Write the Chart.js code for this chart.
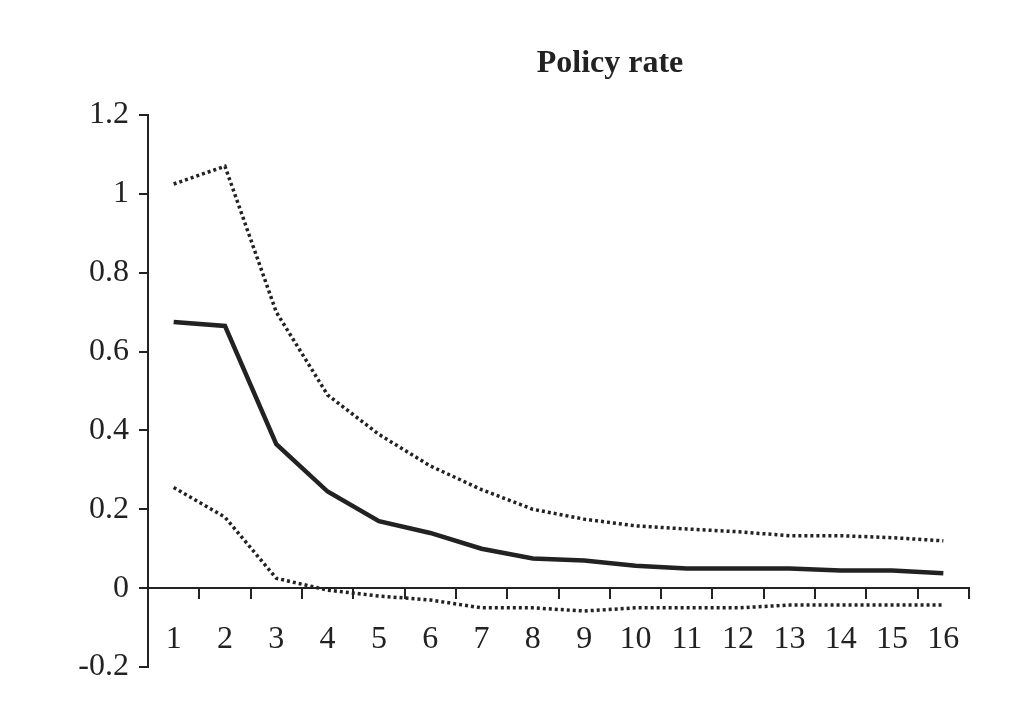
<!DOCTYPE html>
<html>
<head>
<meta charset="utf-8">
<script src="https://cdn.jsdelivr.net/npm/chart.js@4"></script>
<style>
  html, body { margin: 0; padding: 0; background: #fff; }
  #wrap { width: 1010px; height: 726px; }
</style>
</head>
<body>
<div id="wrap"><canvas id="chart" width="1010" height="726"></canvas></div>
<script>
// Horizon labels
const periods = ["1","2","3","4","5","6","7","8","9","10","11","12","13","14","15","16"];

// Impulse response and bands
const response = [0.675, 0.665, 0.365, 0.245, 0.17, 0.14, 0.10, 0.075, 0.07, 0.057, 0.05, 0.05, 0.05, 0.045, 0.045, 0.038];
const upperBand = [1.025, 1.07, 0.70, 0.49, 0.39, 0.31, 0.25, 0.20, 0.175, 0.158, 0.15, 0.143, 0.133, 0.133, 0.128, 0.12];
const lowerBand = [0.255, 0.18, 0.025, -0.005, -0.02, -0.03, -0.05, -0.05, -0.058, -0.05, -0.05, -0.05, -0.043, -0.043, -0.043, -0.043];

const titleText = "Policy rate";
const ink = "#222";
const serif = "'Liberation Serif', 'DejaVu Serif', serif";

// Title drawn at a fixed spot above the plot
const titlePlugin = {
  id: "fixedTitle",
  afterDraw(chart) {
    const ctx = chart.ctx;
    ctx.save();
    ctx.font = "bold 32px " + serif;
    ctx.fillStyle = ink;
    ctx.textAlign = "center";
    ctx.textBaseline = "middle";
    ctx.fillText(titleText, 610, 64);
    ctx.restore();
  }
};

new Chart(document.getElementById("chart"), {
  type: "line",
  data: {
    labels: periods,
    datasets: [
      { data: upperBand, borderColor: ink, borderWidth: 3.5, borderDash: [3, 3], pointRadius: 0, tension: 0 },
      { data: response, borderColor: ink, borderWidth: 4.5, pointRadius: 0, tension: 0 },
      { data: lowerBand, borderColor: ink, borderWidth: 3.5, borderDash: [3, 3], pointRadius: 0, tension: 0 },
    ],
  },
  options: {
    responsive: false,
    animation: false,
    layout: { padding: { left: 0, right: 41, top: 115, bottom: 59 } },
    plugins: { legend: { display: false }, title: { display: false }, tooltip: { enabled: false } },
    scales: {
      x: {
        type: "category",
        offset: true,
        position: { y: 0 },
        afterFit: (s) => { s.height = 0; },
        grid: { offset: true, drawOnChartArea: false, color: ink, lineWidth: 2, tickLength: 10 },
        border: { color: ink, width: 2 },
        ticks: { color: ink, font: { family: serif, size: 32 }, padding: 22, maxRotation: 0, autoSkip: false },
      },
      y: {
        min: -0.2,
        max: 1.2,
        afterFit: (s) => { s.width = 148; },
        grid: { drawOnChartArea: false, color: ink, lineWidth: 2, tickLength: 9 },
        border: { color: ink, width: 2 },
        ticks: {
          stepSize: 0.2,
          color: ink,
          font: { family: serif, size: 32 },
          padding: 10,
          callback: (v) => String(Number(v.toFixed(1))),
        },
      },
    },
  },
  plugins: [titlePlugin],
});
</script>
</body>
</html>
